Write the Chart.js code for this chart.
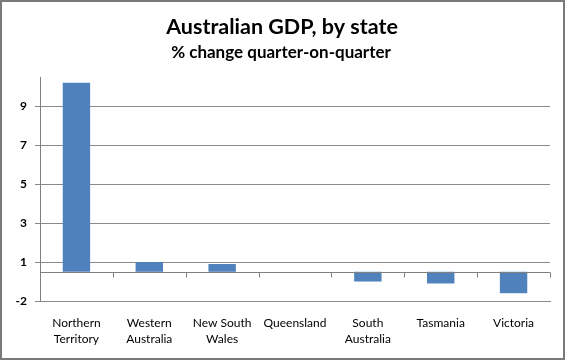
<!DOCTYPE html>
<html>
<head>
<meta charset="utf-8">
<script src="https://cdn.jsdelivr.net/npm/chart.js@4/dist/chart.umd.min.js"></script>
<style>
  html, body { margin: 0; padding: 0; background: #fff; }
  #wrap { position: relative; width: 566px; height: 361px; }
</style>
</head>
<body>
<div id="wrap"><canvas id="c" width="566" height="361"></canvas></div>
<script>
// ---- data ----
const categories = [["Northern", "Territory"], ["Western", "Australia"], ["New South", "Wales"], "Queensland", ["South", "Australia"], "Tasmania", "Victoria"];
const gdpChange = [9.7, 0.5, 0.4, 0, -0.5, -0.6, -1.1];
const yTickValues = [-1.5, 0.5, 2.5, 4.5, 6.5, 8.5];
const yMin = -1.5;
const yMax = 10;
const titleText = "Australian GDP, by state";
const subtitleText = "% change quarter-on-quarter";

const FONT = "Lato, 'Open Sans', sans-serif";
const LINE = "#8a8a8a";

function roundHalfAway(v) {
  return Math.sign(v) * Math.round(Math.abs(v));
}

const zeroAxisPlugin = {
  id: "zeroAxis",
  afterDatasetsDraw(chart) {
    const { ctx, chartArea, scales } = chart;
    const y0 = Math.round(scales.y.getPixelForValue(0)) + 0.5;
    ctx.save();
    ctx.strokeStyle = "#808080";
    ctx.lineWidth = 1;
    ctx.beginPath();
    ctx.moveTo(chartArea.left, y0);
    ctx.lineTo(chartArea.right, y0);
    const n = chart.data.labels.length;
    for (let i = 0; i <= n; i++) {
      const x = Math.round(scales.x.getPixelForValue(i - 0.5)) + 0.5;
      ctx.moveTo(x, y0);
      ctx.lineTo(x, y0 + 5);
    }
    ctx.stroke();
    ctx.restore();
  }
};

const titlesPlugin = {
  id: "titles",
  afterDraw(chart) {
    const { ctx } = chart;
    ctx.save();
    ctx.fillStyle = "#000";
    ctx.textAlign = "center";
    ctx.textBaseline = "alphabetic";
    ctx.font = "bold 21.5px " + FONT;
    ctx.fillText(titleText, 282, 34);
    ctx.font = "bold 17px " + FONT;
    ctx.fillText(subtitleText, 281, 58);
    ctx.restore();
  }
};

const borderPlugin = {
  id: "outerBorder",
  afterDraw(chart) {
    const { ctx, width, height } = chart;
    ctx.save();
    ctx.strokeStyle = "#7a7a7a";
    ctx.lineWidth = 2;
    ctx.strokeRect(1, 1, width - 3, height - 3);
    ctx.restore();
  }
};

new Chart(document.getElementById("c"), {
  type: "bar",
  data: {
    labels: categories,
    datasets: [{
      data: gdpChange,
      backgroundColor: "#4f81bd",
      borderWidth: 0,
      categoryPercentage: 1.0,
      barPercentage: 0.376
    }]
  },
  options: {
    responsive: false,
    animation: false,
    devicePixelRatio: 1,
    layout: { padding: { left: 0, right: 16, top: 77, bottom: 0 } },
    plugins: {
      legend: { display: false },
      tooltip: { enabled: false },
      title: { display: false },
      subtitle: { display: false }
    },
    scales: {
      x: {
        grid: { display: false, drawTicks: false },
        border: { display: true, color: LINE },
        ticks: {
          color: "#000",
          font: { family: FONT, size: 12, lineHeight: 1.33 },
          padding: 14,
          maxRotation: 0,
          autoSkip: false
        },
        afterFit(scale) { scale.height = 60; }
      },
      y: {
        min: yMin,
        max: yMax,
        afterBuildTicks(scale) {
          scale.ticks = yTickValues.map(v => ({ value: v }));
        },
        grid: { color: LINE, tickLength: 5, drawTicks: true },
        border: { display: true, color: "#808080" },
        ticks: {
          color: "#000",
          padding: 8,
          font: { family: FONT, size: 12, weight: "bold" },
          callback: (v) => String(roundHalfAway(v))
        },
        afterFit(scale) { scale.width = 40; }
      }
    }
  },
  plugins: [zeroAxisPlugin, titlesPlugin, borderPlugin]
});
</script>
</body>
</html>
